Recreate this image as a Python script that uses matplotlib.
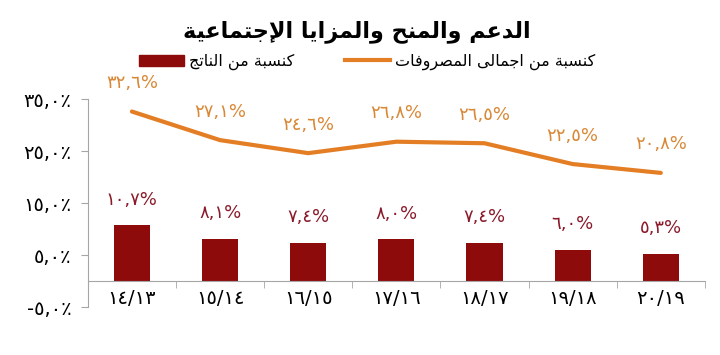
import matplotlib
matplotlib.use('Agg')
import matplotlib.pyplot as plt
from matplotlib.patches import Patch
from matplotlib.lines import Line2D

plt.rcParams['font.family'] = ['DejaVu Sans']

# data
years = ['١٤/١٣', '١٥/١٤', '١٦/١٥', '١٧/١٦', '١٨/١٧', '١٩/١٨', '٢٠/١٩']
of_expenses = [32.6, 27.1, 24.6, 26.8, 26.5, 22.5, 20.8]
of_gdp = [10.7, 8.1, 7.4, 8.0, 7.4, 6.0, 5.3]
yticks = [-5, 5, 15, 25, 35]

title_txt = 'الدعم والمنح والمزايا الإجتماعية'
lbl_expenses = 'كنسبة من اجمالى المصروفات'
lbl_gdp = 'كنسبة من الناتج'

# minimal arabic shaping: isolated, final, initial, medial
FORMS = {
    'ا': (0xFE8D, 0xFE8E, None, None),
    'إ': (0xFE87, 0xFE88, None, None),
    'أ': (0xFE83, 0xFE84, None, None),
    'ب': (0xFE8F, 0xFE90, 0xFE91, 0xFE92),
    'ة': (0xFE93, 0xFE94, None, None),
    'ت': (0xFE95, 0xFE96, 0xFE97, 0xFE98),
    'ج': (0xFE9D, 0xFE9E, 0xFE9F, 0xFEA0),
    'ح': (0xFEA1, 0xFEA2, 0xFEA3, 0xFEA4),
    'د': (0xFEA9, 0xFEAA, None, None),
    'ر': (0xFEAD, 0xFEAE, None, None),
    'ز': (0xFEAF, 0xFEB0, None, None),
    'س': (0xFEB1, 0xFEB2, 0xFEB3, 0xFEB4),
    'ص': (0xFEB9, 0xFEBA, 0xFEBB, 0xFEBC),
    'ع': (0xFEC9, 0xFECA, 0xFECB, 0xFECC),
    'ف': (0xFED1, 0xFED2, 0xFED3, 0xFED4),
    'ك': (0xFED9, 0xFEDA, 0xFEDB, 0xFEDC),
    'ل': (0xFEDD, 0xFEDE, 0xFEDF, 0xFEE0),
    'م': (0xFEE1, 0xFEE2, 0xFEE3, 0xFEE4),
    'ن': (0xFEE5, 0xFEE6, 0xFEE7, 0xFEE8),
    'و': (0xFEED, 0xFEEE, None, None),
    'ى': (0xFEEF, 0xFEF0, None, None),
    'ي': (0xFEF1, 0xFEF2, 0xFEF3, 0xFEF4),
}
LAM_ALEF = {'ا': (0xFEFB, 0xFEFC), 'إ': (0xFEF9, 0xFEFA), 'أ': (0xFEF7, 0xFEF8)}


def shape(text):
    out = []
    i = 0
    n = len(text)
    while i < n:
        c = text[i]
        if c not in FORMS:
            out.append(c)
            i += 1
            continue
        prev = text[i - 1] if i > 0 else ''
        joins_prev = prev in FORMS and FORMS[prev][2] is not None
        if c == 'ل' and i + 1 < n and text[i + 1] in LAM_ALEF:
            iso, fin = LAM_ALEF[text[i + 1]]
            out.append(chr(fin if joins_prev else iso))
            i += 2
            continue
        nxt = text[i + 1] if i + 1 < n else ''
        joins_next = FORMS[c][2] is not None and nxt in FORMS
        f = FORMS[c]
        if joins_prev and joins_next:
            code = f[3]
        elif joins_prev:
            code = f[1]
        elif joins_next:
            code = f[2]
        else:
            code = f[0]
        out.append(chr(code))
        i += 1
    return ''.join(out)[::-1]


AR_DIGITS = str.maketrans('0123456789', '٠١٢٣٤٥٦٧٨٩')


def ar_num(v, pct='%'):
    return f'{v:.1f}'.replace('.', ',').translate(AR_DIGITS) + pct


bar_color = '#8E0B0B'
bar_text = '#8A1A2A'
line_color = '#E47E25'
line_text = '#D98836'
axis_gray = '#A6A6A6'

fig = plt.figure(figsize=(7.2, 3.55), dpi=100)
ax = fig.add_axes([0.122, 0.135, 0.857, 0.586])

x = range(len(years))
ax.bar(x, of_gdp, width=0.41, color=bar_color, zorder=2)
ax.plot(x, of_expenses, color=line_color, lw=3, solid_capstyle='round', zorder=3)

for i, v in enumerate(of_gdp):
    ax.annotate(ar_num(v), (i, v), xytext=(0, 12), textcoords='offset points',
                ha='center', va='bottom', color=bar_text, fontsize=13)
for i, v in enumerate(of_expenses):
    ax.annotate(ar_num(v), (i, v), xytext=(0, 14), textcoords='offset points',
                ha='center', va='bottom', color=line_text, fontsize=13)

ax.set_xlim(-0.5, len(years) - 0.5)
ax.set_ylim(-5, 35)
ax.set_yticks(yticks)
ax.set_yticklabels([ar_num(t, '٪') for t in yticks])
ax.set_xticks(list(x))
ax.set_xticklabels(years)
ax.set_xticks([i - 0.5 for i in range(len(years) + 1)], minor=True)
ax.tick_params(axis='x', which='major', length=0, pad=6, labelsize=14)
ax.tick_params(axis='x', which='minor', length=5, color=axis_gray, direction='out')
ax.tick_params(axis='y', length=5, color=axis_gray, pad=7, labelsize=14)

ax.spines['top'].set_visible(False)
ax.spines['right'].set_visible(False)
ax.spines['left'].set_color(axis_gray)
ax.spines['bottom'].set_color(axis_gray)
ax.spines['bottom'].set_position(('data', 0))

fig.text(0.495, 0.912, shape(title_txt), ha='center', va='center',
         fontsize=16, fontweight='bold')

handles = [Patch(color=bar_color), Line2D([0], [0], color=line_color, lw=3)]
fig.legend(handles, [shape(lbl_gdp), shape(lbl_expenses)], ncol=2,
           loc='center', bbox_to_anchor=(0.51, 0.825), frameon=False,
           fontsize=11.5, handlelength=2.8, columnspacing=3.2, handletextpad=0.3)

fig.savefig('out.png', dpi=100)
